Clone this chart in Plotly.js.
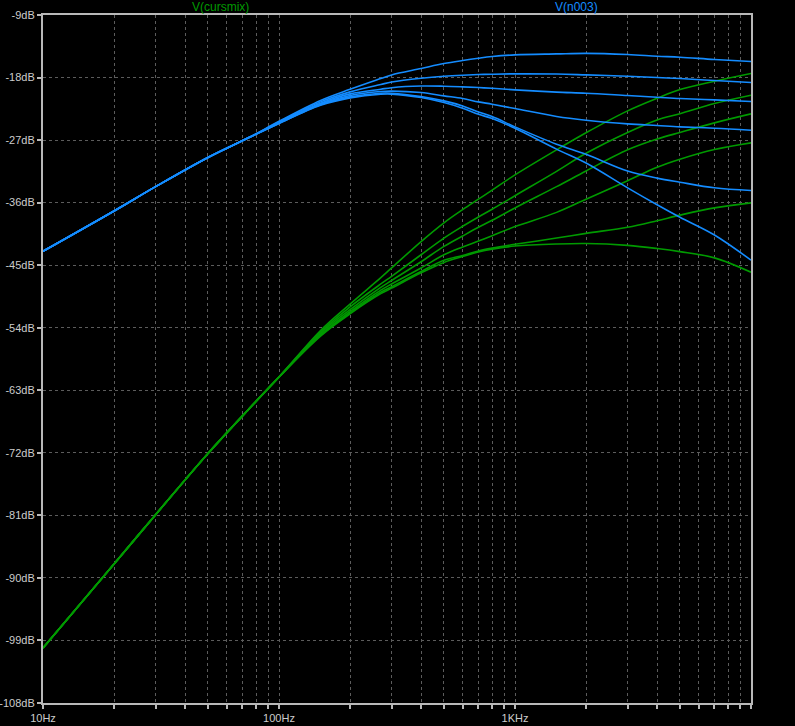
<!DOCTYPE html>
<html>
<head>
<meta charset="utf-8">
<script src="https://cdn.plot.ly/plotly-3.0.1.min.js"></script>
<style>
  html, body { margin: 0; padding: 0; background: #000; }
  #chart { width: 795px; height: 726px; }
</style>
</head>
<body>
<div id="chart"></div>
<script>
// Frequencies (Hz)
const freq = [10,20,30,50,75,100,150,200,270,300,400,500,600,700,800,1000,1500,2000,3000,4000,5000,7000,10000];

// V(n003) curves (dB)
const blue1 = [-43.0,-37.2,-33.7,-29.5,-26.6,-24.3,-21.3,-19.7,-18.15,-17.62,-16.7,-15.99,-15.55,-15.22,-14.98,-14.74,-14.6,-14.52,-14.69,-14.93,-15.07,-15.41,-15.70];
const blue2 = [-43.0,-37.2,-33.7,-29.5,-26.6,-24.4,-21.5,-20.06,-19.0,-18.65,-18.1,-17.81,-17.66,-17.57,-17.52,-17.47,-17.5,-17.62,-17.81,-18.0,-18.14,-18.43,-18.72];
const blue3 = [-43.0,-37.2,-33.7,-29.5,-26.6,-24.5,-21.7,-20.35,-19.68,-19.46,-19.22,-19.25,-19.34,-19.44,-19.55,-19.77,-20.1,-20.25,-20.59,-20.83,-21.02,-21.21,-21.45];
const blue4 = [-43.0,-37.2,-33.7,-29.5,-26.6,-24.5,-21.8,-20.59,-20.01,-19.95,-20.16,-20.64,-21.02,-21.5,-21.84,-22.46,-23.6,-24.14,-24.67,-24.91,-25.10,-25.29,-25.58];
const blue5 = [-43.0,-37.2,-33.7,-29.5,-26.6,-24.6,-21.9,-20.78,-20.25,-20.25,-20.73,-21.36,-22.08,-22.94,-23.6,-25.1,-27.6,-29.05,-31.45,-32.47,-33.06,-33.87,-34.26];
const blue6 = [-43.0,-37.2,-33.7,-29.5,-26.6,-24.6,-22.0,-20.93,-20.4,-20.38,-20.88,-21.6,-22.41,-23.28,-23.9,-25.3,-28.3,-30.3,-33.87,-36.3,-38.1,-40.65,-44.28];

// V(cursmix) curves (dB)
const green1 = [-100.1,-88.0,-80.9,-72.1,-65.6,-61.1,-54.4,-50.6,-46.8,-45.4,-41.6,-38.9,-37.0,-35.5,-34.2,-32.0,-28.4,-25.95,-22.8,-20.99,-19.73,-18.53,-17.42];
const green2 = [-100.1,-88.0,-80.9,-72.1,-65.6,-61.1,-54.6,-51.0,-47.7,-46.6,-43.5,-41.1,-39.4,-38.06,-36.95,-35.0,-31.5,-28.9,-25.9,-24.1,-23.2,-21.74,-20.54];
const green3 = [-100.1,-88.0,-80.9,-72.1,-65.6,-61.1,-54.8,-51.4,-48.2,-47.2,-44.5,-42.3,-40.8,-39.55,-38.54,-36.76,-33.7,-31.45,-28.4,-26.85,-25.9,-24.52,-23.23];
const green4 = [-100.1,-88.0,-80.9,-72.1,-65.6,-61.1,-55.0,-51.7,-48.6,-47.7,-45.4,-43.5,-42.38,-41.52,-40.75,-39.45,-37.4,-35.5,-32.85,-30.9,-29.75,-28.36,-27.4];
const green5 = [-100.1,-88.0,-80.9,-72.1,-65.6,-61.1,-55.1,-51.9,-48.9,-48.1,-45.9,-44.3,-43.6,-42.96,-42.55,-42.0,-41.1,-40.42,-39.55,-38.6,-37.8,-36.75,-36.03];
const green6 = [-100.1,-88.0,-80.9,-72.1,-65.6,-61.1,-55.2,-52.0,-49.1,-48.3,-46.1,-44.6,-43.75,-43.1,-42.7,-42.25,-41.95,-41.88,-42.15,-42.6,-43.05,-43.95,-46.01];

// Axis ticks
const xTickVals = [10,20,30,40,50,60,70,80,90,100,200,300,400,500,600,700,800,900,1000,2000,3000,4000,5000,6000,7000,8000,9000,10000];
const xTickText = xTickVals.map(v => v === 10 ? '10Hz' : v === 100 ? '100Hz' : v === 1000 ? '1KHz' : '');
const yTickVals = [-108,-99,-90,-81,-72,-63,-54,-45,-36,-27,-18,-9];
const yTickText = yTickVals.map(v => v + 'dB');

const titleGreen = 'V(cursmix)';
const titleBlue = 'V(n003)';

const GREEN = '#009a00';
const BLUE = '#148cff';

const greens = [green1, green2, green3, green4, green5, green6];
const blues = [blue1, blue2, blue3, blue4, blue5, blue6];

const traces = [];
greens.forEach(g => traces.push({
  x: freq, y: g, type: 'scatter', mode: 'lines',
  line: {color: GREEN, width: 1.6, shape: 'spline', smoothing: 1},
  hoverinfo: 'skip', showlegend: false
}));
blues.forEach(b => traces.push({
  x: freq, y: b, type: 'scatter', mode: 'lines',
  line: {color: BLUE, width: 1.6, shape: 'spline', smoothing: 1},
  hoverinfo: 'skip', showlegend: false
}));

const FONT = 'Liberation Sans, Arial, sans-serif';
const axisCommon = {
  showgrid: true, gridcolor: '#5c5c5c', griddash: '3px,3px', gridwidth: 1,
  showline: true, mirror: true, linecolor: '#b8b8b8', linewidth: 2,
  ticks: 'outside', ticklen: 4, tickwidth: 2, tickcolor: '#b8b8b8',
  tickfont: {family: FONT, size: 11, color: '#cccccc'},
  zeroline: false, fixedrange: true
};

const layout = {
  width: 795, height: 726,
  margin: {l: 43, r: 44, t: 15, b: 23, pad: 0},
  paper_bgcolor: '#000', plot_bgcolor: '#000',
  xaxis: Object.assign({}, axisCommon, {
    type: 'log', range: [1, 4],
    tickmode: 'array', tickvals: xTickVals, ticktext: xTickText
  }),
  yaxis: Object.assign({}, axisCommon, {
    range: [-108, -9],
    tickmode: 'array', tickvals: yTickVals, ticktext: yTickText
  }),
  annotations: [
    {text: titleGreen, xref: 'paper', yref: 'paper', x: 0.25, y: 1.011, xanchor: 'center', yanchor: 'middle',
     showarrow: false, font: {family: FONT, size: 12, color: GREEN}},
    {text: titleBlue, xref: 'paper', yref: 'paper', x: 0.753, y: 1.011, xanchor: 'center', yanchor: 'middle',
     showarrow: false, font: {family: FONT, size: 12, color: BLUE}}
  ],
  showlegend: false
};

Plotly.newPlot('chart', traces, layout, {staticPlot: true, displayModeBar: false});
</script>
</body>
</html>
